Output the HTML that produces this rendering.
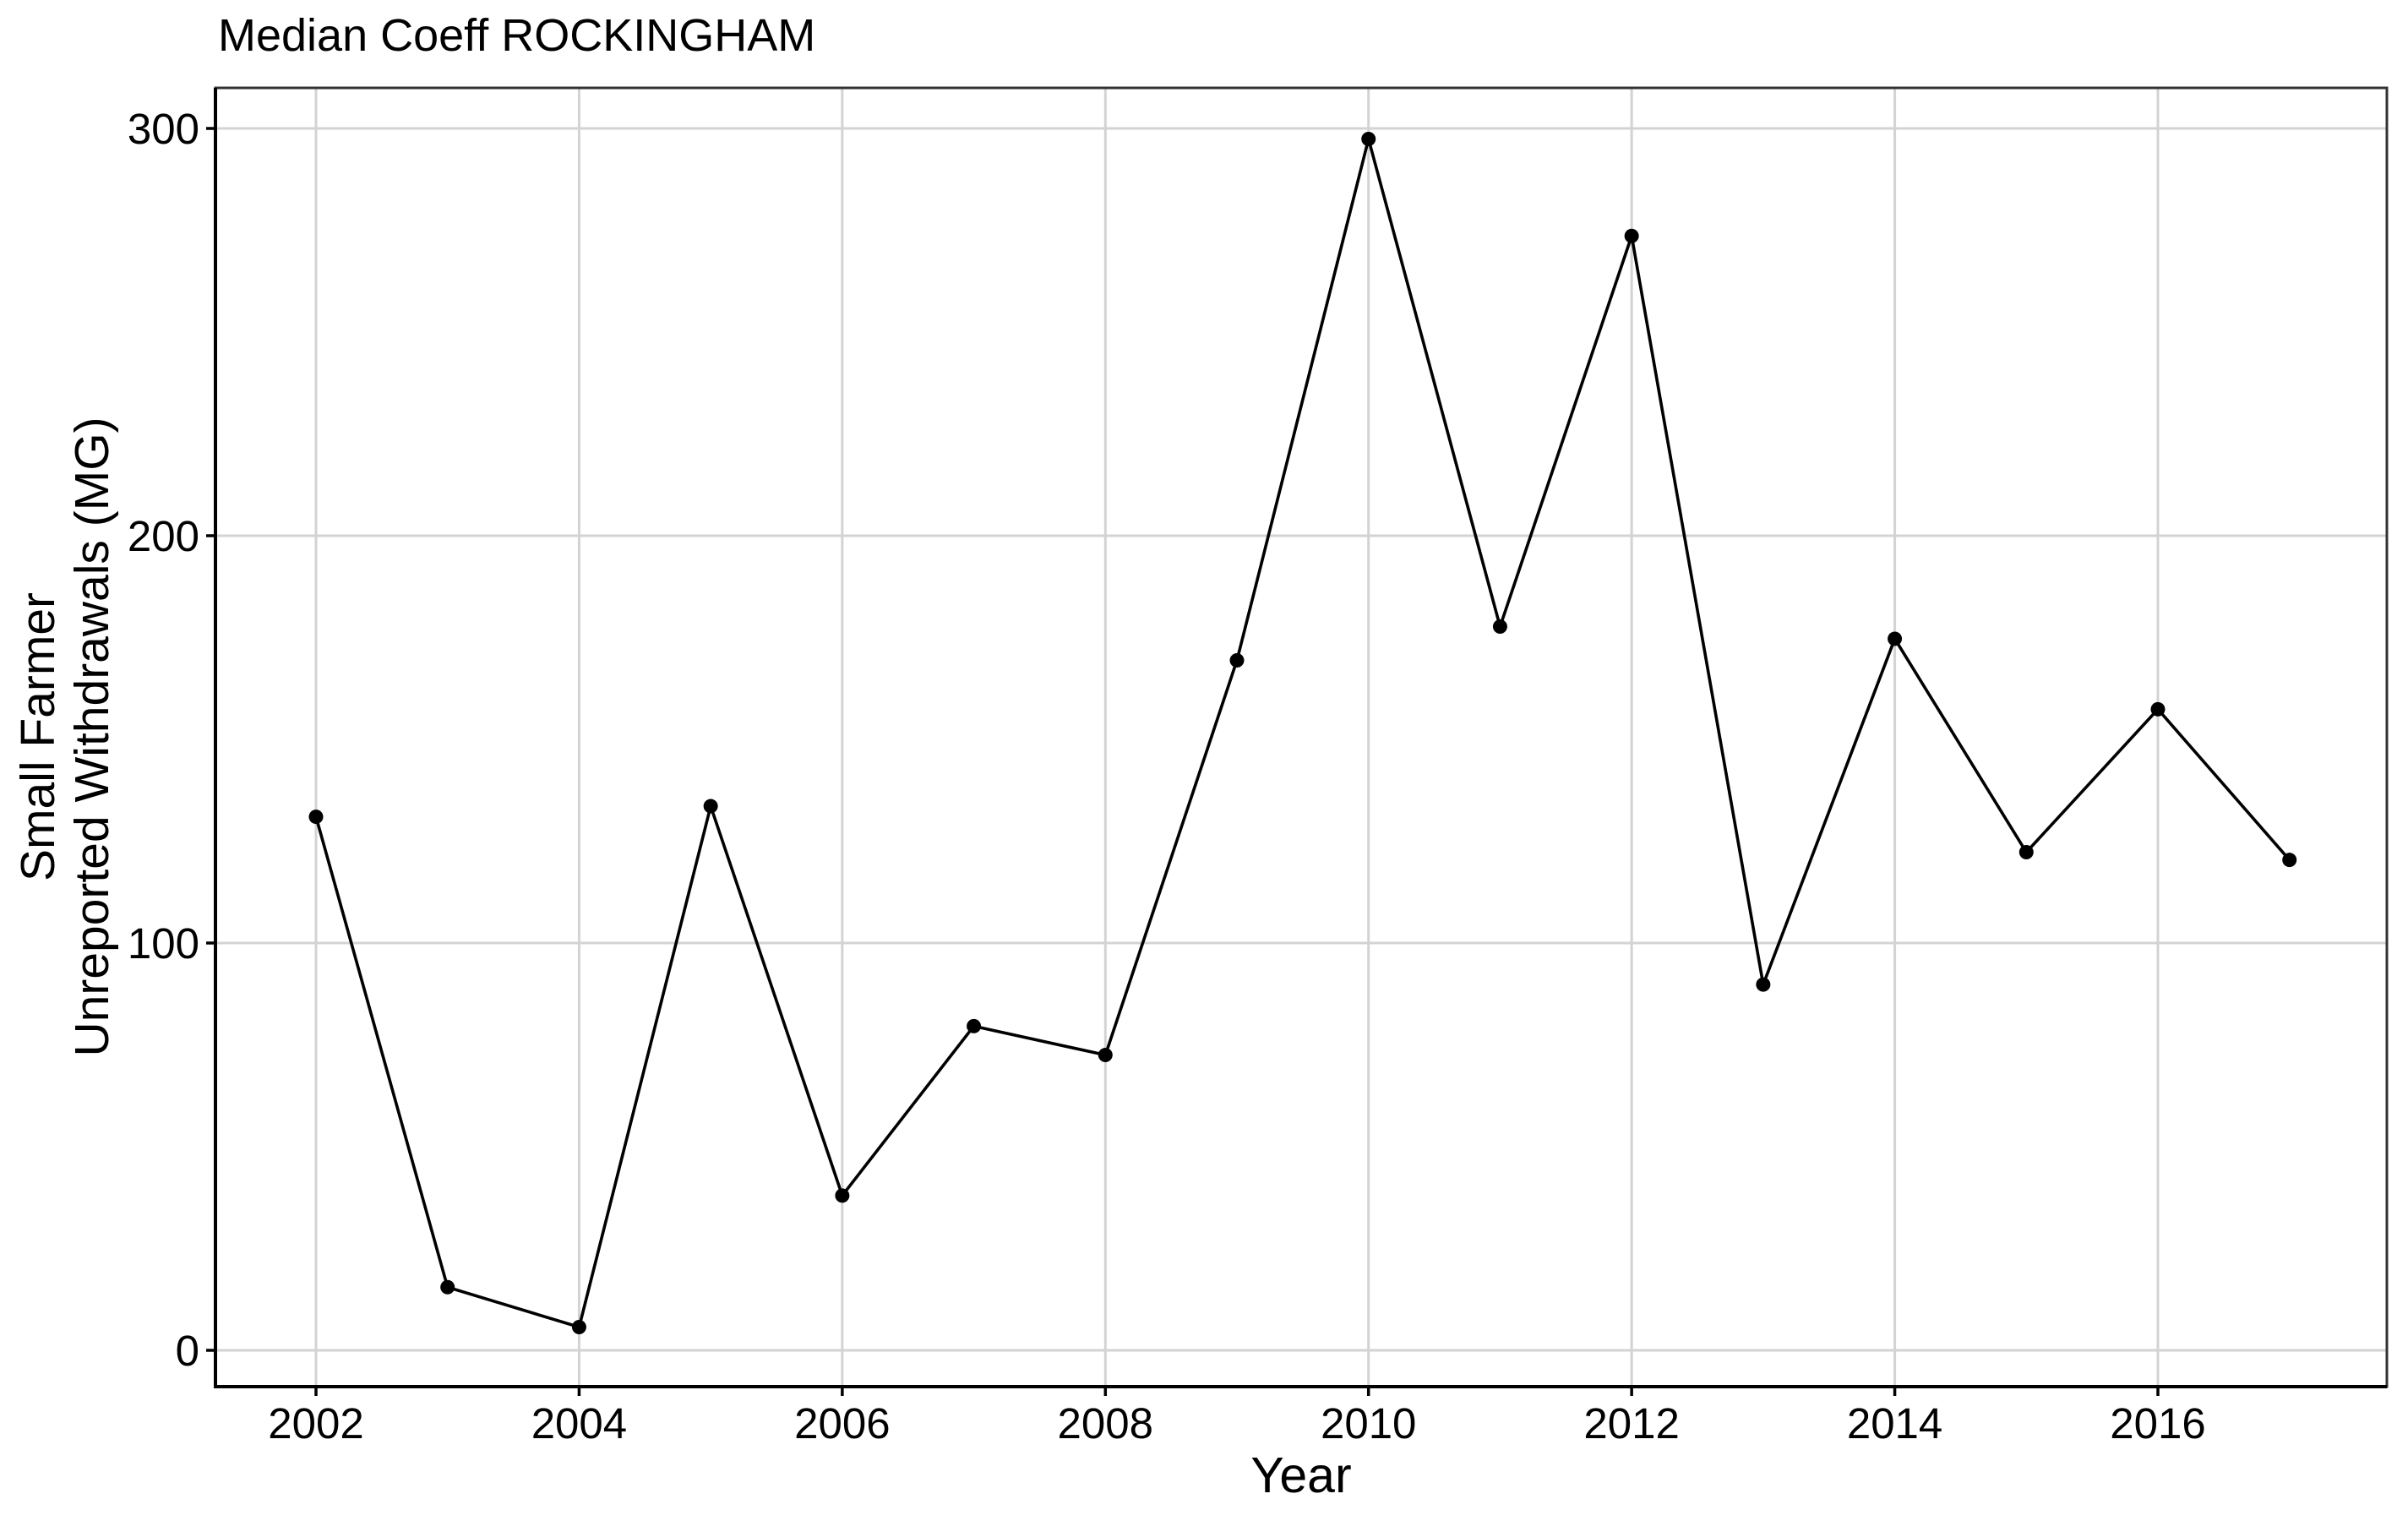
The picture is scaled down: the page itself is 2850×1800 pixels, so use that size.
<!DOCTYPE html>
<html><head><meta charset="utf-8"><style>
html,body{margin:0;padding:0;background:#fff;}
svg{display:block;font-family:"Liberation Sans",Arial,sans-serif;}
</style></head><body>
<svg id="chart" width="2850" height="1800" viewBox="0 0 2850 1800" xmlns="http://www.w3.org/2000/svg">
<rect width="2850" height="1800" fill="#fff"/>
<text x="258" y="60" font-size="54">Median Coeff ROCKINGHAM</text>
<g id="grid"></g>
<g id="axes"></g>
<g id="series"></g>
<text x="1540" y="1766" font-size="59" text-anchor="middle">Year</text>
<text transform="translate(0,872) rotate(-90)" font-size="57" text-anchor="middle"><tspan x="0" y="64">Small Farmer</tspan><tspan x="0" y="128">Unreported Withdrawals (MG)</tspan></text>
</svg>
<script>
const years = [2002,2003,2004,2005,2006,2007,2008,2009,2010,2011,2012,2013,2014,2015,2016,2017];
const values = [131,15.5,5.7,133.6,38,79.6,72.5,169.4,297.4,177.7,273.6,89.8,174.7,122.3,157.4,120.4];
const xTicks = [2002,2004,2006,2008,2010,2012,2014,2016];
const yTicks = [0,100,200,300];

const L=255,R=2825,T=104,B=1641;
function sx(v){return 374+(v-2002)*(2554-374)/14;}
function sy(v){return 1598-v*(1598-152)/300;}
const NS='http://www.w3.org/2000/svg';
function mk(tag,attrs,parent){const e=document.createElementNS(NS,tag);for(const k in attrs)e.setAttribute(k,attrs[k]);parent.appendChild(e);return e;}
const grid=document.getElementById('grid'),axes=document.getElementById('axes'),series=document.getElementById('series');
yTicks.forEach(t=>{
  const g=mk('line',{x1:L,x2:R,y1:sy(t),y2:sy(t),stroke:'#d3d3d3','stroke-width':3},grid);
  
  
  const tk=mk('line',{x1:L-11,x2:L,y1:sy(t),y2:sy(t),stroke:'#000','stroke-width':3.5},axes);
  
  
  const tx=mk('text',{x:L-19,y:sy(t)+18,'font-size':51,'text-anchor':'end'},axes);
  tx.textContent=t;
  
  
});
xTicks.forEach(t=>{
  const g=mk('line',{x1:sx(t),x2:sx(t),y1:T,y2:B,stroke:'#d3d3d3','stroke-width':3},grid);
  
  
  const tk=mk('line',{x1:sx(t),x2:sx(t),y1:B,y2:B+11,stroke:'#000','stroke-width':3.5},axes);
  
  
  const tx=mk('text',{x:sx(t),y:1702,'font-size':51,'text-anchor':'middle'},axes);
  tx.textContent=t;
  
  
});
const border=mk('rect',{x:L,y:T,width:R-L,height:B-T,fill:'none',stroke:'#333','stroke-width':3},axes);


const ax=mk('path',{d:`M${L},${T} V${B} H${R}`,fill:'none',stroke:'#000','stroke-width':4},axes);


const pts=years.map((y,i)=>sx(y)+','+sy(values[i])).join(' ');
const pl=mk('polyline',{points:pts,fill:'none',stroke:'#000','stroke-width':3.6,'stroke-linejoin':'round'},series);


years.forEach((y,i)=>{
  const c=mk('circle',{cx:sx(y),cy:sy(values[i]),r:8.5,fill:'#000'},series);
  
  
});
</script>
</body></html>
